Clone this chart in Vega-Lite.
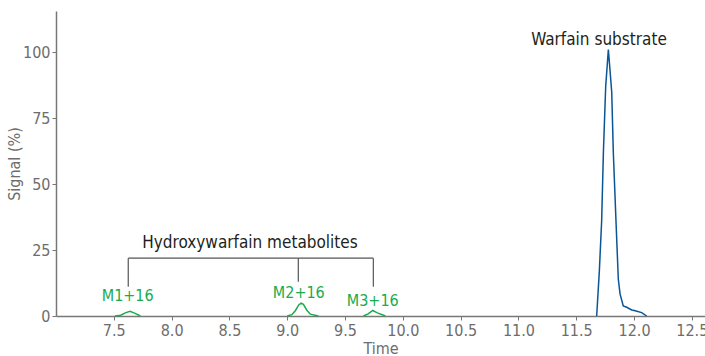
{
  "$schema": "https://vega.github.io/schema/vega-lite/v6.json",
  "width": 649,
  "height": 305,
  "autosize": {"type": "none"},
  "padding": {"left": 56, "top": 11, "right": 0, "bottom": 40},
  "config": {
    "view": {"stroke": null},
    "axis": {
      "grid": false,
      "domainColor": "#777777",
      "domainWidth": 1.5,
      "tickColor": "#777777",
      "tickSize": 4,
      "labelColor": "#6d6d6d",
      "labelFont": "DejaVu Sans Condensed",
      "labelFontSize": 16,
      "titleColor": "#6d6d6d",
      "titleFont": "DejaVu Sans Condensed",
      "titleFontSize": 16,
      "titleFontWeight": "normal"
    }
  },
  "resolve": {"scale": {"color": "independent"}},
  "datasets": {
    "peaks": [
      {"t": 7.51, "v": 0, "s": "M1"},
      {"t": 7.56, "v": 0.3, "s": "M1"},
      {"t": 7.6, "v": 1.2, "s": "M1"},
      {"t": 7.64, "v": 1.8, "s": "M1"},
      {"t": 7.68, "v": 1.1, "s": "M1"},
      {"t": 7.73, "v": 0, "s": "M1"},
      {"t": 9.0, "v": 0, "s": "M2"},
      {"t": 9.04, "v": 0.5, "s": "M2"},
      {"t": 9.07, "v": 2.0, "s": "M2"},
      {"t": 9.1, "v": 4.2, "s": "M2"},
      {"t": 9.12, "v": 4.9, "s": "M2"},
      {"t": 9.14, "v": 4.4, "s": "M2"},
      {"t": 9.17, "v": 2.2, "s": "M2"},
      {"t": 9.2, "v": 0.7, "s": "M2"},
      {"t": 9.27, "v": 0, "s": "M2"},
      {"t": 9.66, "v": 0, "s": "M3"},
      {"t": 9.7, "v": 0.8, "s": "M3"},
      {"t": 9.74, "v": 2.1, "s": "M3"},
      {"t": 9.78, "v": 1.2, "s": "M3"},
      {"t": 9.85, "v": 0, "s": "M3"},
      {"t": 11.677, "v": 0, "s": "W"},
      {"t": 11.7, "v": 17, "s": "W"},
      {"t": 11.72, "v": 36, "s": "W"},
      {"t": 11.735, "v": 62, "s": "W"},
      {"t": 11.755, "v": 87, "s": "W"},
      {"t": 11.778, "v": 101, "s": "W"},
      {"t": 11.807, "v": 85, "s": "W"},
      {"t": 11.821, "v": 62, "s": "W"},
      {"t": 11.844, "v": 36, "s": "W"},
      {"t": 11.864, "v": 14, "s": "W"},
      {"t": 11.879, "v": 8.4, "s": "W"},
      {"t": 11.907, "v": 3.8, "s": "W"},
      {"t": 11.937, "v": 3.3, "s": "W"},
      {"t": 11.98, "v": 2.3, "s": "W"},
      {"t": 12.01, "v": 2.0, "s": "W"},
      {"t": 12.066, "v": 1.3, "s": "W"},
      {"t": 12.11, "v": 0, "s": "W"}
    ],
    "bracket": [
      {"x": 7.625, "x2": 9.745, "y": 21.9, "y2": 21.9},
      {"x": 7.625, "x2": 7.625, "y": 21.9, "y2": 11.1},
      {"x": 9.096, "x2": 9.096, "y": 21.9, "y2": 13.0},
      {"x": 9.745, "x2": 9.745, "y": 21.9, "y2": 11.1}
    ],
    "labels": [
      {"t": 7.62, "v": 7.6, "label": "M1+16", "k": "green", "sz": 16},
      {"t": 9.1, "v": 8.6, "label": "M2+16", "k": "green", "sz": 16},
      {"t": 9.74, "v": 5.8, "label": "M3+16", "k": "green", "sz": 16},
      {"t": 8.678, "v": 27.5, "label": "Hydroxywarfain metabolites", "k": "dark", "sz": 17},
      {"t": 11.697, "v": 104.5, "label": "Warfain substrate", "k": "dark", "sz": 17}
    ]
  },
  "layer": [
    {
      "data": {"name": "peaks"},
      "mark": {"type": "line", "strokeWidth": 1.5, "interpolate": "linear"},
      "encoding": {
        "x": {"field": "t", "type": "quantitative", "scale": {"domain": [7.0, 12.614], "nice": false, "zero": false}, "axis": {"title": "Time", "values": [7.5, 8, 8.5, 9, 9.5, 10, 10.5, 11, 11.5, 12, 12.5], "format": ".1f", "labelPadding": 2, "titlePadding": 2}},
        "y": {"field": "v", "type": "quantitative", "scale": {"domain": [0, 115.6], "nice": false}, "axis": {"title": "Signal (%)", "values": [0, 25, 50, 75, 100], "labelPadding": 2, "titlePadding": 0}},
        "detail": {"field": "s"},
        "color": {"field": "s", "type": "nominal", "scale": {"domain": ["M1", "M2", "M3", "W"], "range": ["#1aab4b", "#1aab4b", "#1aab4b", "#0a5596"]}, "legend": null}
      }
    },
    {
      "data": {"name": "bracket"},
      "mark": {"type": "rule", "color": "#555555", "strokeWidth": 1.2},
      "encoding": {
        "x": {"field": "x", "type": "quantitative"},
        "x2": {"field": "x2"},
        "y": {"field": "y", "type": "quantitative"},
        "y2": {"field": "y2"}
      }
    },
    {
      "data": {"name": "labels"},
      "mark": {"type": "text", "font": "DejaVu Sans Condensed", "baseline": "middle", "align": "center"},
      "encoding": {
        "x": {"field": "t", "type": "quantitative"},
        "y": {"field": "v", "type": "quantitative"},
        "text": {"field": "label"},
        "size": {"field": "sz", "type": "quantitative", "scale": null},
        "color": {"field": "k", "type": "nominal", "scale": {"domain": ["green", "dark"], "range": ["#1aab4b", "#231f20"]}, "legend": null}
      }
    }
  ]
}
